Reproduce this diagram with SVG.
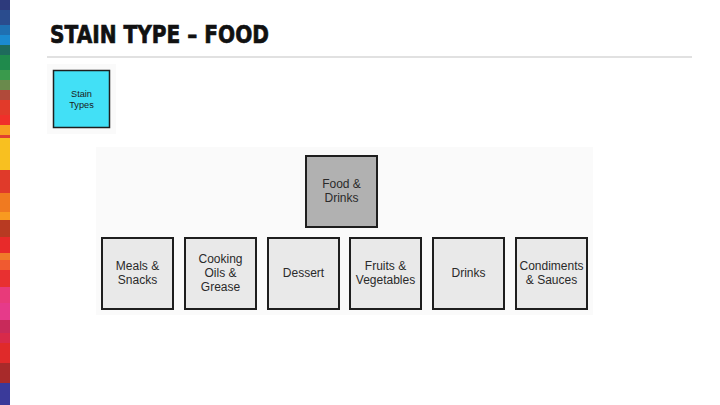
<svg xmlns="http://www.w3.org/2000/svg" width="720" height="405" viewBox="0 0 720 405">
<style>
.box{fill:#e9e9e9;stroke:#1e1e1e;stroke-width:2}
.lbl{font-family:"Liberation Sans","Open Sans",Arial,sans-serif;font-size:12px;fill:#2a2a2a;text-anchor:middle}
.small{font-family:"Liberation Sans","Open Sans",Arial,sans-serif;font-size:9.2px;fill:#1a1a1a;text-anchor:middle}
</style>
<rect x="0" y="0" width="720" height="405" fill="#ffffff"/>
<g id="strip">
<rect x="0" y="0" width="10" height="10" fill="#2d3a7c"/>
<rect x="0" y="10" width="10" height="15" fill="#2a4c8e"/>
<rect x="0" y="25" width="10" height="10" fill="#1f70b2"/>
<rect x="0" y="35" width="10" height="10" fill="#1b8ad0"/>
<rect x="0" y="45" width="10" height="10" fill="#1e6b5c"/>
<rect x="0" y="55" width="10" height="15" fill="#1f8a4c"/>
<rect x="0" y="70" width="10" height="10" fill="#3a9a4c"/>
<rect x="0" y="80" width="10" height="10" fill="#6a8a4c"/>
<rect x="0" y="90" width="10" height="10" fill="#b04a3a"/>
<rect x="0" y="100" width="10" height="15" fill="#e23a2a"/>
<rect x="0" y="115" width="10" height="10" fill="#f0302a"/>
<rect x="0" y="125" width="10" height="10" fill="#f8a020"/>
<rect x="0" y="135" width="10" height="3" fill="#e04030"/>
<rect x="0" y="138" width="10" height="32" fill="#f8c020"/>
<rect x="0" y="170" width="10" height="23" fill="#e03a2a"/>
<rect x="0" y="193" width="10" height="19" fill="#f07a20"/>
<rect x="0" y="212" width="10" height="8" fill="#f89a20"/>
<rect x="0" y="220" width="10" height="17" fill="#b83a22"/>
<rect x="0" y="237" width="10" height="16" fill="#e82a2a"/>
<rect x="0" y="253" width="10" height="7" fill="#f07a2a"/>
<rect x="0" y="260" width="10" height="10" fill="#f05a30"/>
<rect x="0" y="270" width="10" height="17" fill="#e83030"/>
<rect x="0" y="287" width="10" height="16" fill="#e83a7a"/>
<rect x="0" y="303" width="10" height="17" fill="#e63a8a"/>
<rect x="0" y="320" width="10" height="13" fill="#c82a5a"/>
<rect x="0" y="333" width="10" height="10" fill="#d82a4a"/>
<rect x="0" y="343" width="10" height="20" fill="#e02a2a"/>
<rect x="0" y="363" width="10" height="20" fill="#a82a2a"/>
<rect x="0" y="383" width="10" height="22" fill="#3a3a9a"/>
</g>
<text x="50" y="43" font-family="'DejaVu Sans','Liberation Sans',sans-serif" font-weight="bold" font-size="24" fill="#111111" stroke="#111111" stroke-width="0.7" textLength="219" lengthAdjust="spacingAndGlyphs">STAIN TYPE – FOOD</text>
<line x1="47" y1="57" x2="692" y2="57" stroke="#c4c4c4" stroke-width="1.2"/>
<rect x="47" y="64" width="69" height="70" fill="#fafafa"/>
<rect x="96" y="147" width="497" height="168" fill="#fafafa"/>
<g id="connectors"></g>
<g id="stain-types">
<rect x="53.5" y="70.5" width="56" height="57" fill="#42e0f6" stroke="#1e1e1e" stroke-width="1.5"/>
<text class="small" x="81.5" y="96.5">Stain</text>
<text class="small" x="81.5" y="108">Types</text>
</g>
<g id="food-drinks">
<rect x="306" y="156" width="71" height="71" fill="#b1b1b1" stroke="#1e1e1e" stroke-width="2"/>
<text class="lbl" x="341.5" y="188">Food &amp;</text>
<text class="lbl" x="341.5" y="202">Drinks</text>
</g>
<g id="meals">
<rect class="box" x="102" y="238" width="71" height="71"/>
<text class="lbl" x="137.5" y="270">Meals &amp;</text>
<text class="lbl" x="137.5" y="284">Snacks</text>
</g>
<g id="cooking">
<rect class="box" x="185" y="238" width="71" height="71"/>
<text class="lbl" x="220.5" y="263">Cooking</text>
<text class="lbl" x="220.5" y="277">Oils &amp;</text>
<text class="lbl" x="220.5" y="291">Grease</text>
</g>
<g id="dessert">
<rect class="box" x="268" y="238" width="71" height="71"/>
<text class="lbl" x="303.5" y="277">Dessert</text>
</g>
<g id="fruits">
<rect class="box" x="350" y="238" width="71" height="71"/>
<text class="lbl" x="385.5" y="270">Fruits &amp;</text>
<text class="lbl" x="385.5" y="284">Vegetables</text>
</g>
<g id="drinks">
<rect class="box" x="433" y="238" width="71" height="71"/>
<text class="lbl" x="468.5" y="277">Drinks</text>
</g>
<g id="condiments">
<rect class="box" x="516" y="238" width="71" height="71"/>
<text class="lbl" x="551.5" y="270">Condiments</text>
<text class="lbl" x="551.5" y="284">&amp; Sauces</text>
</g>
</svg>
